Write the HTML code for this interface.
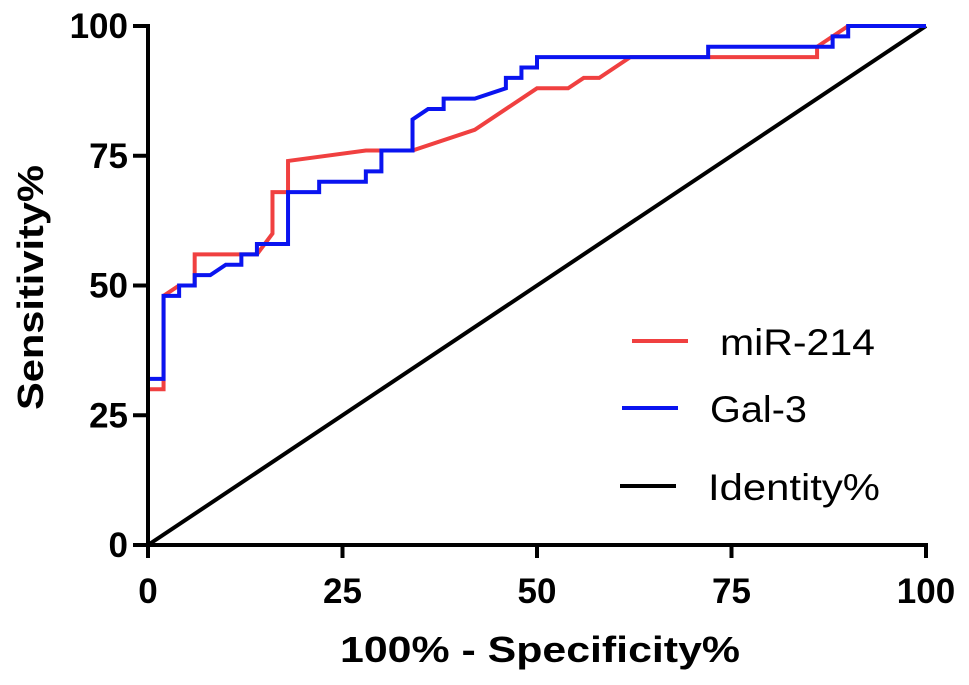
<!DOCTYPE html>
<html><head><meta charset="utf-8"><style>
body{margin:0;background:#fff;}
svg{display:block;font-family:"Liberation Sans",Arial,sans-serif;}
</style></head><body>
<svg id="chart" width="969" height="685"></svg>
<script>
const xTicks=[0,25,50,75,100];
const yTicks=[0,25,50,75,100];
const mirX=[0,0,2,2,4,6,6,14,16,16,18,18,28,34,42,50,54,56,58,62,86,86,88,90,100];
const mirY=[0,30,30,48,50,50,56,56,60,68,68,74,76,76,80,88,88,90,90,94,94,96,98,100,100];
const galX=[0,0,2,2,4,4,6,6,8,10,12,12,14,14,18,18,22,22,28,28,30,30,34,34,36,38,38,42,46,46,48,48,50,50,72,72,88,88,90,90,100];
const galY=[0,32,32,48,48,50,50,52,52,54,54,56,56,58,58,68,68,70,70,72,72,76,76,82,84,84,86,86,88,90,90,92,92,94,94,96,96,98,98,100,100];
const idX=[0,100];
const idY=[0,100];
const svg=document.getElementById('chart');
const NS='http://www.w3.org/2000/svg';
const X0=148,X1=926,Y0=545,Y1=26;
const sx=v=>X0+(X1-X0)*v/100;
const sy=v=>Y0-(Y0-Y1)*v/100;
function mk(t,a,txt){const e=document.createElementNS(NS,t);for(const k in a)e.setAttribute(k,a[k]);if(txt!==undefined)e.textContent=txt;svg.appendChild(e);return e;}
function series(xs,ys,color,name){
  const pts=xs.map((x,i)=>sx(x)+','+sy(ys[i])).join(' ');
  const p=mk('polyline',{points:pts,fill:'none',stroke:color,'stroke-width':4,'stroke-linejoin':'miter'});
  
  
}
series(idX,idY,'#000','identity-line');
series(mirX,mirY,'#f04040','mir214-line');
series(galX,galY,'#0a14f0','gal3-line');
let a=mk('line',{x1:X0,y1:Y1-2,x2:X0,y2:Y0+2,stroke:'#000','stroke-width':4});

a=mk('line',{x1:X0-2,y1:Y0,x2:X1+2,y2:Y0,stroke:'#000','stroke-width':4});

xTicks.forEach(v=>{
  const l=mk('line',{x1:sx(v),y1:Y0,x2:sx(v),y2:Y0+13,stroke:'#000','stroke-width':4});
  
  const t=mk('text',{x:sx(v),y:603,'text-anchor':'middle','font-size':35,'font-weight':'bold'},v);
  
});
yTicks.forEach(v=>{
  const l=mk('line',{x1:X0-15,y1:sy(v),x2:X0,y2:sy(v),stroke:'#000','stroke-width':4});
  
  const t=mk('text',{x:128,y:sy(v)+12,'text-anchor':'end','font-size':35,'font-weight':'bold'},v);
  
});
let t=mk('text',{x:340,y:662,'font-size':36,'font-weight':'bold',textLength:400,lengthAdjust:'spacingAndGlyphs'},'100% - Specificity%');

t=mk('text',{x:0,y:0,'font-size':36,'font-weight':'bold',textLength:245,lengthAdjust:'spacingAndGlyphs',transform:'translate(43,410) rotate(-90)'},'Sensitivity%');

const legNames=['miR-214','Gal-3','Identity%'];
const legColors=['#f04040','#0a14f0','#000'];
const legYs=[341,408,486];
const legLX=[632,622,620];
const legTX=[720,710,708];
const legW=[155,97,172];
legNames.forEach((n,i)=>{
  const l=mk('line',{x1:legLX[i],y1:legYs[i],x2:legLX[i]+56,y2:legYs[i],stroke:legColors[i],'stroke-width':4});
  
  const tx=mk('text',{x:legTX[i],y:legYs[i]+14,'font-size':37,textLength:legW[i],lengthAdjust:'spacingAndGlyphs'},n);
  
});
</script>
</body></html>
